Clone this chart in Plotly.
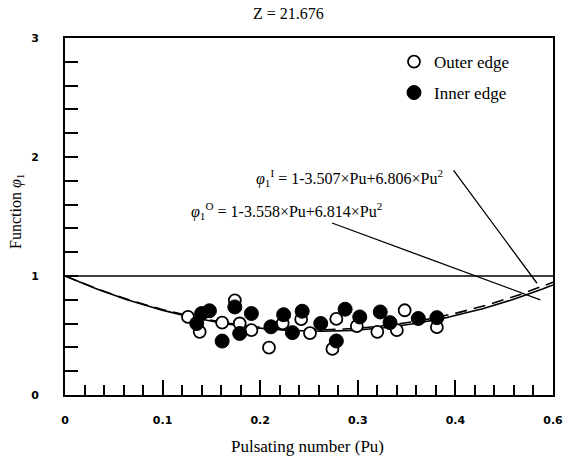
import numpy as np
import plotly.graph_objects as go

# ---- data ----
outer_pu = [0.126, 0.138, 0.161, 0.174, 0.179, 0.191, 0.209, 0.223, 0.242, 0.251,
            0.278, 0.274, 0.299, 0.320, 0.340, 0.348, 0.381]
outer_phi = [0.656, 0.531, 0.608, 0.796, 0.601, 0.545, 0.398, 0.601, 0.637, 0.520,
             0.639, 0.387, 0.578, 0.531, 0.545, 0.712, 0.570]

inner_pu = [0.135, 0.140, 0.148, 0.161, 0.174, 0.179, 0.191, 0.211, 0.224, 0.233,
            0.243, 0.262, 0.287, 0.278, 0.302, 0.323, 0.333, 0.362, 0.381]
inner_phi = [0.601, 0.685, 0.708, 0.453, 0.740, 0.517, 0.685, 0.573, 0.675, 0.524,
             0.704, 0.601, 0.721, 0.454, 0.656, 0.698, 0.608, 0.643, 0.650]

coef_inner = [1.0, -3.507, 6.806]   # phi_1^I
coef_outer = [1.0, -3.558, 6.814]   # phi_1^O

x_tickvals = [0, 0.1, 0.2, 0.3, 0.4, 0.5]
x_ticktext = ["0", "0.1", "0.2", "0.3", "0.4", "0.6"]
y_tickvals = [0, 1, 2, 3]
y_ticktext = ["0", "1", "2", "3"]

pu = np.linspace(0, 0.5, 200)
fit_inner = coef_inner[0] + coef_inner[1] * pu + coef_inner[2] * pu ** 2
fit_outer = coef_outer[0] + coef_outer[1] * pu + coef_outer[2] * pu ** 2

SERIF = "Liberation Serif"
BOLD = "DejaVu Sans"

W, H = 565, 464
L, R, T, B = 65, 12, 38, 69
pw, ph = W - L - R, H - T - B


def px(xp):
    return (xp - L) / pw


def py(yp):
    return (H - B - yp) / ph


fig = go.Figure()

fig.add_trace(go.Scatter(x=pu, y=fit_outer, mode="lines",
                         line=dict(color="black", width=1.6), showlegend=False))
fig.add_trace(go.Scatter(x=pu, y=fit_inner, mode="lines",
                         line=dict(color="black", width=1.6, dash="12px,7px"), showlegend=False))

fig.add_trace(go.Scatter(x=outer_pu, y=outer_phi, mode="markers", name="Outer edge",
                         legend="legend",
                         marker=dict(symbol="circle", size=12, color="white",
                                     line=dict(color="black", width=1.8))))
fig.add_trace(go.Scatter(x=inner_pu, y=inner_phi, mode="markers", name="Inner edge",
                         legend="legend2",
                         marker=dict(symbol="circle", size=14, color="black",
                                     line=dict(color="black", width=1))))

fig.add_hline(y=1, line=dict(color="black", width=1.5))

# leader lines
fig.add_annotation(x=0.4836, y=0.939, ax=0.397, ay=1.90, xref="x", yref="y",
                   axref="x", ayref="y", text="", showarrow=True, arrowhead=0,
                   arrowwidth=1.3, arrowcolor="black")
fig.add_annotation(x=0.487, y=0.80, ax=0.272, ay=1.45, xref="x", yref="y",
                   axref="x", ayref="y", text="", showarrow=True, arrowhead=0,
                   arrowwidth=1.3, arrowcolor="black")

fig.add_annotation(x=px(254), y=py(178), xref="paper", yref="paper", showarrow=False,
                   text="<i>φ</i><sub>1</sub><sup>I</sup> = 1-3.507×Pu+6.806×Pu<sup>2</sup>",
                   font=dict(family=SERIF, size=16, color="black"),
                   xanchor="left", yanchor="middle")
fig.add_annotation(x=px(189), y=py(211), xref="paper", yref="paper", showarrow=False,
                   text="<i>φ</i><sub>1</sub><sup>O</sup> = 1-3.558×Pu+6.814×Pu<sup>2</sup>",
                   font=dict(family=SERIF, size=16, color="black"),
                   xanchor="left", yanchor="middle")

fig.add_annotation(x=px(288), y=py(13), xref="paper", yref="paper", showarrow=False,
                   text="Z = 21.676", font=dict(family=SERIF, size=16, color="black"),
                   xanchor="center", yanchor="middle")
fig.add_annotation(x=px(307), y=py(446), xref="paper", yref="paper", showarrow=False,
                   text="Pulsating number (Pu)", font=dict(family=SERIF, size=17, color="black"),
                   xanchor="center", yanchor="middle")
fig.add_annotation(x=px(16), y=py(212), xref="paper", yref="paper", showarrow=False,
                   text="Function <i>φ</i><sub>1</sub>", textangle=-90,
                   font=dict(family=SERIF, size=16, color="black"),
                   xanchor="center", yanchor="middle")

legend_common = dict(xanchor="left", yanchor="middle",
                     font=dict(family=SERIF, size=17, color="black"),
                     bgcolor="rgba(0,0,0,0)", borderwidth=0, itemsizing="trace")

tickfont = dict(family=BOLD, size=11, color="black", weight=700)

fig.update_layout(
    template="none",
    font=dict(family=SERIF, size=14, color="black"),
    width=W, height=H,
    margin=dict(l=L, r=R, t=T, b=B, pad=0),
    paper_bgcolor="white", plot_bgcolor="white",
    showlegend=True,
    legend=dict(x=px(394), y=py(62), **legend_common),
    legend2=dict(x=px(394), y=py(93), **legend_common),
    xaxis=dict(range=[0, 0.5], showgrid=False, zeroline=False,
               showline=True, linecolor="black", linewidth=2, mirror=True,
               tickmode="array", tickvals=x_tickvals,
               ticktext=["<b>%s</b>" % t for t in x_ticktext],
               ticks="inside", ticklen=15, tickwidth=1.5, tickcolor="black",
               ticklabelstandoff=14, tickfont=tickfont,
               minor=dict(dtick=0.02, tick0=0, ticks="inside", ticklen=10,
                          tickwidth=1.5, tickcolor="black", showgrid=False)),
    yaxis=dict(range=[0, 3], showgrid=False, zeroline=False,
               showline=True, linecolor="black", linewidth=2, mirror=True,
               tickmode="array", tickvals=y_tickvals,
               ticktext=["<b>%s</b>" % t for t in y_ticktext],
               ticks="inside", ticklen=13, tickwidth=1.5, tickcolor="black",
               ticklabelstandoff=22, tickfont=tickfont,
               minor=dict(dtick=0.2, tick0=0, ticks="inside", ticklen=13,
                          tickwidth=1.5, tickcolor="black", showgrid=False)),
)

fig.write_html("out.html")
